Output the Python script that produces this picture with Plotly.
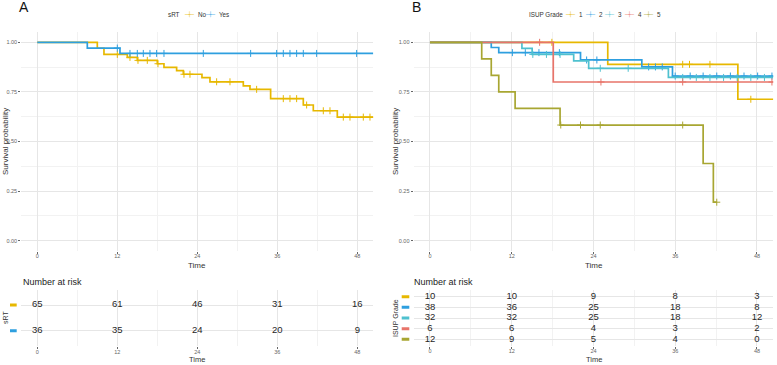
import plotly.graph_objects as go

W, H = 777, 365


def px(x):
    return x / W


def py(y):
    return 1 - y / H


# ---------------- data ----------------
time_ticks = [0, 12, 24, 36, 48]
x_range = [-2.4, 50.4]

# Panel A: sRT
srt_labels = ["No", "Yes"]
srt_colors = ["#E7B800", "#2E9FDF"]
srt_end = [50.4, 50.4]
srt_event_times = [
    [9.0, 10.0, 13.5, 15.0, 18.0, 19.0, 20.9, 21.9, 24.7, 25.9, 30.9, 31.9, 35.0, 39.9, 41.4, 45.0],
    [7.5, 12.4],
]
srt_surv = [
    [0.970, 0.939, 0.924, 0.909, 0.892, 0.874, 0.857, 0.839, 0.822, 0.801, 0.780, 0.763, 0.716, 0.684, 0.655, 0.623],
    [0.971, 0.944],
]
srt_censor = [
    [12.0, 13.9, 15.1, 16.5, 18.1, 22.0, 22.9, 26.9, 28.9, 32.9, 36.9, 37.9, 38.9, 40.4, 42.9, 43.9, 45.9, 46.9, 48.9, 49.9],
    [12.0, 13.9, 15.0, 15.9, 16.9, 17.9, 19.0, 24.9, 32.0, 35.9, 36.9, 37.9, 38.9, 39.9, 41.9, 47.9],
]
srt_risk = [
    [65, 61, 46, 31, 16],
    [36, 35, 24, 20, 9],
]

# Panel B: ISUP Grade
isup_labels = ["1", "2", "3", "4", "5"]
isup_colors = ["#E7B800", "#2E9FDF", "#4FC1CF", "#E8746A", "#A8A632"]
isup_end = [50.4, 50.4, 50.4, 50.4, 42.1]
isup_event_times = [
    [26.1, 45.2],
    [9.0, 10.1, 22.1, 31.1, 35.6],
    [13.5, 15.0, 21.1, 23.3, 35.0],
    [18.1],
    [7.6, 9.0, 10.1, 12.5, 19.1, 40.1, 41.6],
]
isup_surv = [
    [0.889, 0.713],
    [0.974, 0.948, 0.911, 0.876, 0.830],
    [0.969, 0.939, 0.906, 0.869, 0.823],
    [0.800],
    [0.917, 0.833, 0.750, 0.667, 0.583, 0.389, 0.194],
]
isup_censor = [
    [17.9, 37.1, 38.1, 41.1, 47.1],
    [12.1, 14.0, 16.0, 19.0, 23.0, 24.5, 32.1, 33.1, 34.1, 36.0, 38.2, 40.1, 42.1, 44.1, 46.1, 48.1, 50.2],
    [15.1, 17.1, 19.1, 25.0, 29.1, 37.1, 39.1, 41.1, 43.1, 45.1, 47.1, 49.1],
    [16.1, 25.1, 37.1, 50.2],
    [19.2, 22.1, 25.0, 37.1, 42.1],
]
isup_risk = [
    [10, 10, 9, 8, 3],
    [38, 36, 25, 18, 8],
    [32, 32, 25, 18, 12],
    [6, 6, 4, 3, 2],
    [12, 9, 5, 4, 0],
]

# ---------------- helpers ----------------
FONT = "Liberation Sans, Arial, sans-serif"
GRID = "#E6E6E6"
MINOR = "#F2F2F2"
TICKC = "#666666"


def surv_at(t, ev, sv):
    s = 1.0
    for e, v in zip(ev, sv):
        if e <= t:
            s = v
    return s


fig = go.Figure()


def add_km(xa, ya, labels, colors, ends, evs, svs, cens):
    for lab, col, end, ev, sv, cz in zip(labels, colors, ends, evs, svs, cens):
        xs = [0] + list(ev) + [end]
        ys = [1.0] + list(sv) + [sv[-1]]
        fig.add_trace(go.Scatter(
            x=xs, y=ys, mode="lines", line=dict(color=col, width=1.7, shape="hv"),
            xaxis=xa, yaxis=ya, showlegend=False, hoverinfo="skip", name=lab))
        fig.add_trace(go.Scatter(
            x=cz, y=[surv_at(c, ev, sv) for c in cz], mode="markers",
            marker=dict(symbol="cross-thin", size=5, line=dict(color=col, width=1.0)),
            xaxis=xa, yaxis=ya, showlegend=False, hoverinfo="skip", name=lab))


def add_table(xa, ya, risks):
    for i, r in enumerate(risks):
        fig.add_trace(go.Scatter(
            x=time_ticks, y=[i + 1] * len(time_ticks), mode="text",
            text=[str(v) for v in r], textfont=dict(family=FONT, size=9.5, color="#262626"),
            xaxis=xa, yaxis=ya, showlegend=False, hoverinfo="skip"))


add_km("x", "y", srt_labels, srt_colors, srt_end, srt_event_times, srt_surv, srt_censor)
add_km("x2", "y2", isup_labels, isup_colors, isup_end, isup_event_times, isup_surv, isup_censor)
add_table("x3", "y3", srt_risk)
add_table("x4", "y4", isup_risk)

tickfont = dict(family=FONT, size=5.5, color=TICKC)


def xaxis_def(dom, anchor):
    return dict(domain=dom, anchor=anchor, range=x_range, tickvals=time_ticks,
                ticks="outside", ticklen=2, tickwidth=0.8, tickcolor=TICKC,
                tickfont=tickfont, ticklabelstandoff=-2, showgrid=True, gridcolor=GRID, gridwidth=0.8,
                minor=dict(dtick=6, tick0=0, showgrid=True, gridcolor=MINOR, gridwidth=0.6, ticks=""),
                zeroline=False, showline=False, fixedrange=True, automargin=False)


def km_yaxis(anchor):
    return dict(domain=[py(250.6), py(32.4)], anchor=anchor, range=[-0.05, 1.05],
                tickvals=[0, 0.25, 0.5, 0.75, 1.0], ticktext=["0.00", "0.25", "0.50", "0.75", "1.00"],
                ticks="outside", ticklen=2, tickwidth=0.8, tickcolor=TICKC, tickfont=tickfont,
                showgrid=True, gridcolor=GRID, gridwidth=0.8,
                minor=dict(dtick=0.125, tick0=0, showgrid=True, gridcolor=MINOR, gridwidth=0.6, ticks=""),
                zeroline=False, showline=False, fixedrange=True, automargin=False)


def tab_yaxis(anchor, n, top, bottom):
    return dict(domain=[py(bottom), py(top)], anchor=anchor, range=[n + 0.6, 0.4],
                tickvals=list(range(1, n + 1)), showticklabels=False, ticks="",
                showgrid=True, gridcolor=GRID, gridwidth=0.8,
                zeroline=False, showline=False, fixedrange=True, automargin=False)


xA = [px(21.3), px(373.3)]
xB = [px(413.6), px(773.3)]

fig.update_layout(
    width=W, height=H, autosize=False,
    margin=dict(l=0, r=0, t=0, b=0),
    paper_bgcolor="white", plot_bgcolor="white",
    xaxis=xaxis_def(xA, "y"), yaxis=km_yaxis("x"),
    xaxis2=xaxis_def(xB, "y2"), yaxis2=km_yaxis("x2"),
    xaxis3=xaxis_def(xA, "y3"), yaxis3=tab_yaxis("x3", 2, 289.6, 346.1),
    xaxis4=xaxis_def(xB, "y4"), yaxis4=tab_yaxis("x4", 5, 290.3, 345.7),
    showlegend=False,
)

ann = []


def text(x, y, s, size, color="#333333", xanchor="center", angle=0, family=FONT):
    ann.append(dict(x=px(x), y=py(y), xref="paper", yref="paper", text=s, showarrow=False,
                    xanchor=xanchor, yanchor="middle", textangle=angle, borderpad=0,
                    font=dict(family=family, size=size, color=color)))


# panel titles
text(23.5, 7.5, "A", 14, "#111111")
text(416.5, 7.5, "B", 14, "#111111")

# axis titles
for xc in (5.5, 395.5):
    text(xc, 141.5, "Survival probability", 8, "#333333", angle=-90)
text(197.3, 265, "Time", 8)
text(594.0, 265, "Time", 8)
text(197.3, 359.6, "Time", 7.5)
text(594.0, 359.6, "Time", 7.5)

# risk tables headings
text(21.7, 281.7, "Number at risk", 9, "#222222", xanchor="left")
text(413.3, 281.7, "Number at risk", 9, "#222222", xanchor="left")
text(5.0, 318, "sRT", 7, "#333333", angle=-90)
text(395.0, 318, "ISUP Grade", 7, "#333333", angle=-90)

# legends
KEY = "\u2500\u253c\u2500"
LF = 6.3
text(166.7, 14.3, "sRT", LF, xanchor="left")
for lab, col, kx, lx in zip(srt_labels, srt_colors, [189.0, 210.5], [196.5, 218.0]):
    text(kx, 14.3, KEY, 5, col, family="DejaVu Sans Mono")
    text(lx, 14.3, lab, LF, xanchor="left")

text(528.3, 14.3, "ISUP Grade", LF, xanchor="left")
for i, (lab, col) in enumerate(zip(isup_labels, isup_colors)):
    kx = 570.8 + i * 19.4
    text(kx, 14.3, KEY, 5, col, family="DejaVu Sans Mono")
    text(kx + 7.5, 14.3, lab, LF, xanchor="left")

fig.update_layout(annotations=ann)

# colored chips in risk tables
shapes = []
for i, col in enumerate(srt_colors):
    h = 3.0 / 25.7
    shapes.append(dict(type="rect", xref="paper", yref="y3", x0=px(10), x1=px(16.7),
                       y0=i + 1 - h / 2, y1=i + 1 + h / 2, fillcolor=col, line=dict(width=0)))
for i, col in enumerate(isup_colors):
    h = 3.0 / 10.65
    shapes.append(dict(type="rect", xref="paper", yref="y4", x0=px(401.7), x1=px(409.3),
                       y0=i + 1 - h / 2, y1=i + 1 + h / 2, fillcolor=col, line=dict(width=0)))
fig.update_layout(shapes=shapes)

fig.write_html("out.html", config={"displayModeBar": False},
               post_script="document.body.style.margin='0px';document.body.style.padding='0px';")
